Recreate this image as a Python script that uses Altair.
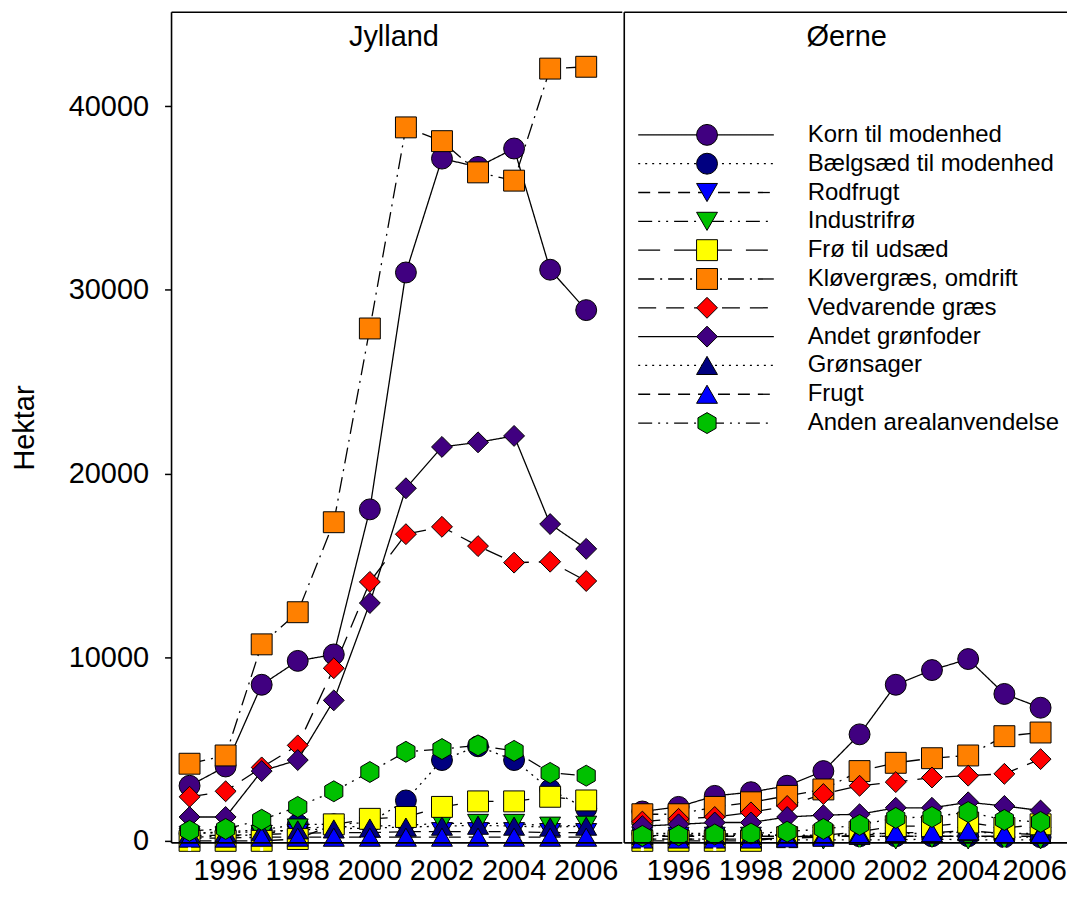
import altair as alt
import pandas as pd

years = list(range(1995, 2007))
odd_years = [1995, 1997, 1999, 2001, 2003, 2005]
label_years = [1996, 1998, 2000, 2002, 2004, 2006]
y_ticks = [0, 10000, 20000, 30000, 40000]

series_names = [
    "Korn til modenhed", "Bælgsæd til modenhed", "Rodfrugt", "Industrifrø",
    "Frø til udsæd", "Kløvergræs, omdrift", "Vedvarende græs", "Andet grønfoder",
    "Grønsager", "Frugt", "Anden arealanvendelse",
]
fill_colors = ["#400080", "#000080", "#0000FF", "#00C000", "#FFFF00", "#FF8000",
               "#FF0000", "#400080", "#000080", "#0000FF", "#00C000"]
hexagon = "M0,-1L0.866,-0.5L0.866,0.5L0,1L-0.866,0.5L-0.866,-0.5Z"
shapes = ["circle", "circle", "triangle-down", "triangle-down", "square", "square",
          "diamond", "diamond", "triangle-up", "triangle-up", hexagon]
sizes = [440, 440, 520, 520, 350, 350, 700, 700, 520, 520, 520]
dashes = [[1, 0], [2, 5], [12, 8], [14, 6, 2, 6, 2, 6], [22, 14], [16, 6, 2, 6],
          [18, 10], [1, 0], [2, 5], [12, 8], [14, 6, 2, 6, 2, 6]]

# Jylland (hectares)
j_korn = [3000, 4050, 8500, 9800, 10150, 18050, 30950, 37150, 36700, 37700, 31100, 28900]
j_baelg = [400, 500, 600, 900, 900, 1000, 2200, 4400, 5150, 4400, 2800, 1750]
j_rod = [300, 300, 350, 400, 450, 450, 500, 500, 500, 500, 450, 450]
j_indu = [200, 250, 350, 700, 750, 800, 850, 950, 950, 950, 800, 850]
j_froe = [0, 0, 0, 100, 900, 1200, 1300, 1850, 2150, 2150, 2400, 2200]
j_klover = [4200, 4650, 10700, 12450, 17350, 27900, 38850, 38100, 36400, 35950, 42050, 42150]
j_vedv = [2400, 2700, 4000, 5200, 9400, 14100, 16700, 17100, 16050, 15150, 15200, 14150]
j_andet = [1300, 1300, 3800, 4400, 7650, 12950, 19200, 21450, 21700, 22050, 17250, 15900]
j_groen = [400, 450, 500, 600, 650, 700, 750, 800, 850, 800, 750, 800]
j_frugt = [150, 150, 200, 200, 200, 200, 200, 200, 200, 200, 200, 200]
j_anden = [550, 650, 1150, 1850, 2700, 3750, 4850, 5000, 5200, 4900, 3700, 3550]

# Øerne (hectares)
o_korn = [1600, 1850, 2450, 2650, 3000, 3800, 5800, 8500, 9300, 9900, 8000, 7250]
o_baelg = [400, 400, 400, 350, 300, 300, 250, 250, 250, 250, 200, 200]
o_rod = [250, 250, 250, 250, 250, 250, 250, 250, 250, 250, 250, 250]
o_indu = [100, 100, 100, 100, 50, 50, 50, 50, 100, 50, 50, 50]
o_froe = [0, 0, 0, 0, 200, 300, 500, 800, 800, 1000, 700, 900]
o_klover = [1450, 1450, 1850, 2100, 2450, 2800, 3800, 4250, 4500, 4650, 5700, 5900]
o_vedv = [1050, 1200, 1300, 1550, 1900, 2550, 3000, 3200, 3450, 3550, 3650, 4450]
o_andet = [800, 900, 1000, 1000, 1300, 1400, 1450, 1800, 1800, 2100, 1900, 1650]
o_groen = [300, 300, 300, 300, 300, 300, 400, 400, 400, 500, 400, 400]
o_frugt = [100, 100, 100, 100, 150, 200, 300, 450, 450, 550, 400, 350]
o_anden = [270, 300, 350, 400, 500, 650, 870, 1250, 1300, 1570, 1140, 1030]

jylland = [j_korn, j_baelg, j_rod, j_indu, j_froe, j_klover, j_vedv, j_andet, j_groen, j_frugt, j_anden]
oerne = [o_korn, o_baelg, o_rod, o_indu, o_froe, o_klover, o_vedv, o_andet, o_groen, o_frugt, o_anden]


def make_df(values_list):
    rows = []
    for k, (name, vals) in enumerate(zip(series_names, values_list)):
        for yr, v in zip(years, vals):
            rows.append({"series": name, "order": k, "year": yr, "value": v})
    return pd.DataFrame(rows)


FONT = "Liberation Sans"
H = 833
LABEL_Y = H + 14
yscale = alt.Scale(domain=[-110, 45120], nice=False, zero=False)
dash_scale = alt.Scale(domain=series_names, range=dashes)
shape_scale = alt.Scale(domain=series_names, range=shapes)
fill_scale = alt.Scale(domain=series_names, range=fill_colors)
size_scale = alt.Scale(domain=series_names, range=sizes)

xaxis = alt.Axis(values=years, title=None, tickSize=7, tickWidth=1.5,
                 tickColor="black", labels=False, grid=False, domain=False)


def panel(values_list, name, width, x_max, show_y, legend):
    df = make_df(values_list)
    xscale = alt.Scale(domain=[1994.5, x_max], nice=False, zero=False)
    if show_y:
        yaxis = alt.Axis(values=y_ticks, format="d", title="Hektar", tickSize=7, tickWidth=1.5,
                         tickColor="black", labelFontSize=29, labelColor="black",
                         labelPadding=16, titleFontSize=29, titleFontWeight="normal",
                         titleColor="black", titlePadding=29, grid=False, domain=False)
    else:
        yaxis = None
    X = alt.X("year:Q", scale=xscale, axis=xaxis)
    Y = alt.Y("value:Q", scale=yscale, axis=yaxis)
    base = alt.Chart(df)
    lines = base.mark_line(color="black", strokeWidth=1.3).encode(
        x=X, y=Y, detail="series:N",
        strokeDash=alt.StrokeDash("series:N", scale=dash_scale, legend=None),
    )
    points = base.mark_point(filled=True, stroke="black", strokeWidth=1, opacity=1).encode(
        x=X, y=Y,
        shape=alt.Shape("series:N", scale=shape_scale, legend=None),
        fill=alt.Fill("series:N", scale=fill_scale, legend=None),
        size=alt.Size("series:N", scale=size_scale, legend=None),
        order=alt.Order("order:Q"),
    )
    # shorten odd-year ticks (minor ticks)
    minor = alt.Chart(pd.DataFrame({"year": odd_years})).mark_rule(
        color="white", strokeWidth=3).encode(
        x=alt.X("year:Q", scale=xscale, axis=None),
        y=alt.value(H + 4.5), y2=alt.value(H + 8),
    )
    # year labels; in the right panel the last one is nudged to stay inside the page
    if legend:
        main_years, last_years, last_dx = label_years[:-1], label_years[-1:], -6
    else:
        main_years, last_years, last_dx = label_years, [], 0
    ylabels = alt.Chart(pd.DataFrame({"year": main_years})).mark_text(
        font=FONT, fontSize=29, color="black", baseline="top", align="center").encode(
        x=alt.X("year:Q", scale=xscale, axis=None),
        y=alt.value(LABEL_Y), text=alt.Text("year:Q", format="d"),
    )
    title = alt.Chart(pd.DataFrame({"t": [name]})).mark_text(
        font=FONT, fontSize=29, color="black", baseline="middle", align="center").encode(
        text="t:N", x=alt.value(223), y=alt.value(25),
    )
    frame = alt.Chart(pd.DataFrame({"t": [name]}))
    top_b = frame.mark_rule(color="black", strokeWidth=1.6).encode(
        x=alt.value(0), x2=alt.value(width), y=alt.value(0))
    bot_b = frame.mark_rule(color="black", strokeWidth=1.6).encode(
        x=alt.value(0), x2=alt.value(width), y=alt.value(H))
    left_b = frame.mark_rule(color="black", strokeWidth=1.6).encode(
        x=alt.value(0), y=alt.value(0), y2=alt.value(H))
    layers = [lines, points, minor, ylabels, title, top_b, bot_b, left_b]
    if last_years:
        last = alt.Chart(pd.DataFrame({"year": last_years})).mark_text(
            font=FONT, fontSize=29, color="black", baseline="top", align="center",
            dx=last_dx).encode(
            x=alt.X("year:Q", scale=xscale, axis=None),
            y=alt.value(LABEL_Y), text=alt.Text("year:Q", format="d"),
        )
        layers.append(last)
    if legend:
        ldf = pd.DataFrame({"series": series_names, "order": list(range(len(series_names)))})
        LY = alt.Y("series:N", scale=alt.Scale(domain=series_names, range=[123, 412],
                                                type="point", padding=0), axis=None)
        lbase = alt.Chart(ldf)
        lrule = lbase.mark_rule(color="black", strokeWidth=1.3).encode(
            x=alt.value(14), x2=alt.value(150), y=LY,
            strokeDash=alt.StrokeDash("series:N", scale=dash_scale, legend=None),
        )
        lpts = lbase.mark_point(filled=True, stroke="black", strokeWidth=1, opacity=1).encode(
            x=alt.value(83), y=LY,
            shape=alt.Shape("series:N", scale=shape_scale, legend=None),
            fill=alt.Fill("series:N", scale=fill_scale, legend=None),
            size=alt.Size("series:N", scale=size_scale, legend=None),
        )
        ltext = lbase.mark_text(font=FONT, fontSize=24, color="black", align="left",
                                baseline="middle").encode(
            x=alt.value(184), y=LY, text="series:N",
        )
        layers += [lrule, lpts, ltext]
    ch = alt.layer(*layers).properties(width=width, height=H)
    if legend:
        ch = ch.resolve_scale(y="independent")
    return ch


left = panel(jylland, "Jylland", 452, 2007, True, False)
right = panel(oerne, "Øerne", 444, 2006.73, False, True)

chart = alt.hconcat(left, right, spacing=0).properties(
    padding={"left": 2, "top": 2, "right": 0, "bottom": 0}
).configure_view(
    strokeWidth=0
).configure_axis(
    labelFont=FONT, titleFont=FONT
).configure_text(font=FONT)

chart.save("out.html", embed_options={"renderer": "svg", "actions": False})
